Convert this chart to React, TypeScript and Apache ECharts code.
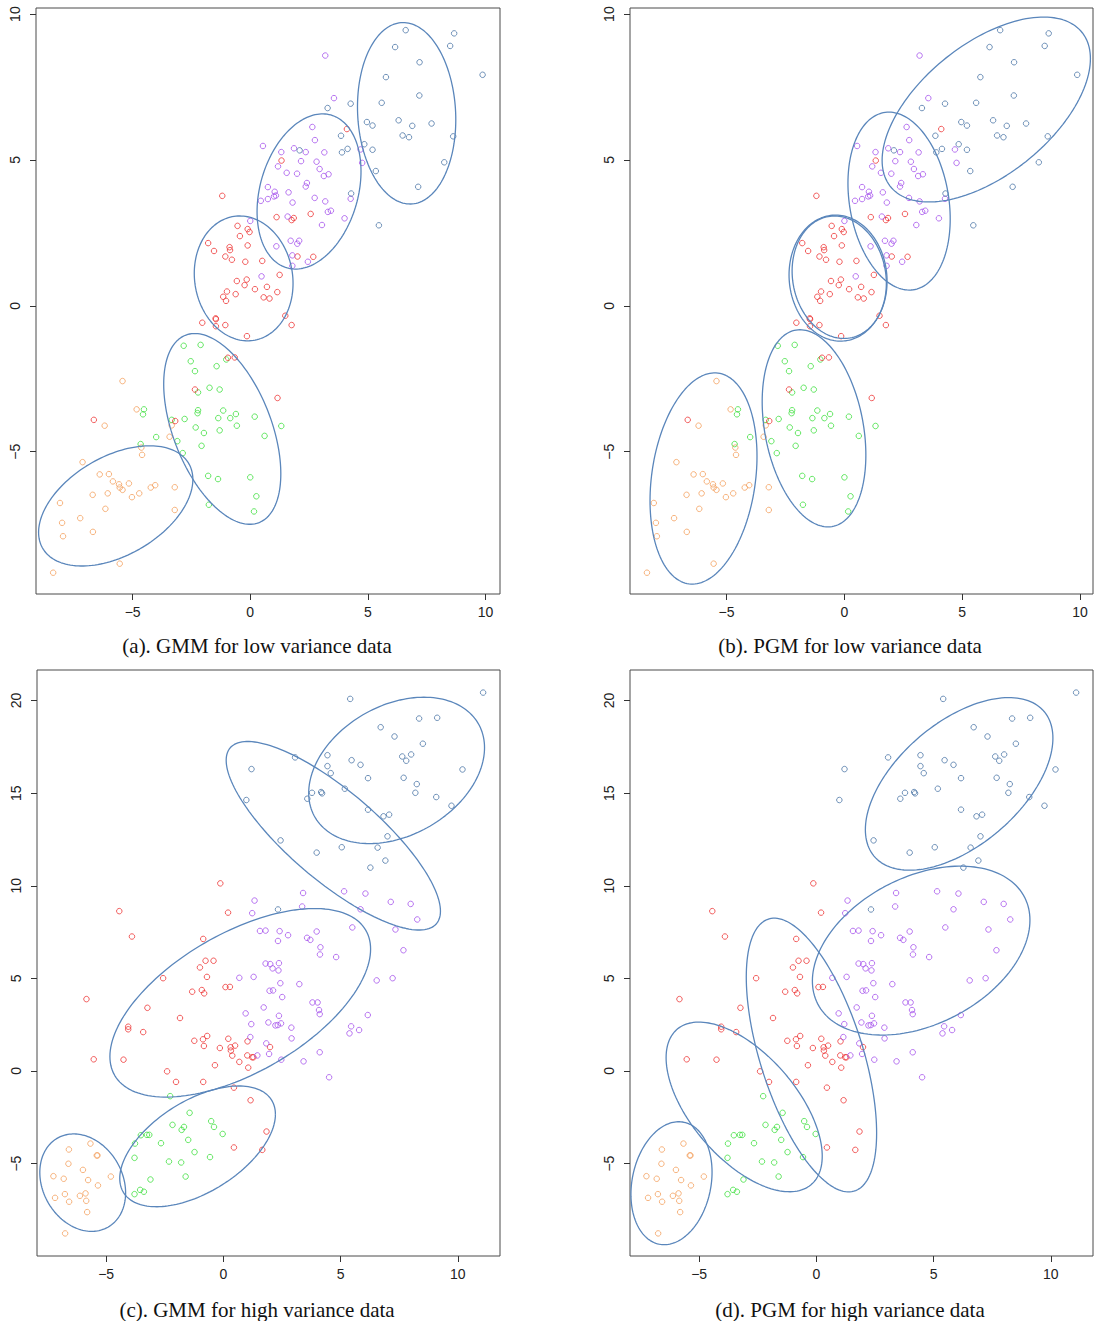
import React, { useEffect, useRef } from "react";
import * as echarts from "echarts";

// ---------- data: low variance (panels a, b) ----------
const lowOrange = [[-5.43,-2.58],[-4.83,-3.55],[-6.19,-4.11],[-3.34,-4.10],[-3.43,-4.49],[-4.63,-4.86],[-4.60,-5.11],[-7.13,-5.36],[-6.40,-5.78],[-6.01,-5.77],[-5.84,-6.02],[-5.58,-6.12],[-5.55,-6.23],[-5.43,-6.31],[-5.16,-6.09],[-4.23,-6.23],[-4.04,-6.15],[-3.21,-6.22],[-6.70,-6.48],[-6.06,-6.43],[-4.72,-6.43],[-5.03,-6.56],[-8.09,-6.76],[-6.16,-6.96],[-3.21,-7.00],[-7.23,-7.28],[-8.00,-7.44],[-6.69,-7.75],[-7.96,-7.90],[-5.55,-8.84],[-8.38,-9.15]];
const lowGreen = [[-2.83,-1.37],[-2.11,-1.34],[-2.53,-1.90],[-2.35,-2.24],[-1.43,-2.07],[-1.02,-1.84],[-2.22,-2.97],[-1.73,-2.81],[-1.30,-2.87],[-4.52,-3.55],[-4.56,-3.72],[-2.22,-3.58],[-2.24,-3.68],[-1.15,-3.59],[-1.36,-3.85],[-0.85,-3.85],[-0.61,-3.71],[0.19,-3.80],[-0.57,-4.11],[-2.79,-3.88],[-3.34,-3.91],[-2.32,-4.17],[-1.97,-4.36],[-1.30,-4.27],[0.61,-4.46],[-4.00,-4.50],[-3.10,-4.64],[-2.07,-4.80],[-4.66,-4.74],[-2.87,-5.05],[-1.79,-5.83],[-1.37,-5.94],[0.00,-5.88],[0.26,-6.53],[-1.76,-6.82],[0.16,-7.05],[1.32,-4.12]];
const lowRed = [[-1.19,3.77],[-0.54,2.74],[-0.11,2.63],[-0.03,2.53],[-0.44,2.39],[-1.79,2.15],[-0.88,2.01],[-0.86,1.91],[-1.54,1.88],[-0.11,2.07],[-1.06,1.69],[-0.78,1.58],[-0.21,1.51],[0.51,1.54],[-0.57,0.85],[-0.15,0.90],[-0.24,0.71],[0.20,0.57],[0.71,0.65],[-0.99,0.49],[-0.62,0.40],[-1.15,0.31],[-1.03,0.17],[0.57,0.29],[4.11,6.06],[1.33,4.98],[2.57,3.15],[1.12,3.04],[1.85,3.01],[1.76,2.94],[2.01,1.69],[2.68,1.68],[1.25,1.06],[1.15,0.47],[0.82,0.25],[-1.47,-0.43],[-1.46,-0.46],[-2.04,-0.58],[-1.46,-0.70],[-1.06,-0.66],[-0.14,-1.04],[-0.95,-1.78],[-0.66,-1.77],[-2.35,-2.87],[-6.65,-3.91],[-3.19,-3.95],[1.49,-0.34],[1.76,-0.66],[1.16,-3.16]];
const lowPurple = [[0.54,5.48],[0.75,4.07],[0.75,3.66],[0.45,3.60],[0.00,2.91],[0.48,1.01],[3.19,8.58],[3.56,7.12],[2.64,6.13],[4.69,5.36],[2.75,5.68],[1.86,5.40],[2.36,5.27],[3.15,5.26],[1.32,5.27],[2.16,4.96],[2.82,4.94],[1.18,4.78],[4.76,4.90],[2.95,4.69],[1.55,4.56],[1.99,4.53],[3.13,4.45],[3.33,4.51],[2.41,4.21],[2.36,4.09],[1.04,3.91],[1.63,3.89],[1.09,3.78],[1.01,3.75],[1.80,3.54],[2.74,3.70],[3.19,3.58],[4.27,3.67],[3.30,3.22],[3.43,3.26],[1.59,3.06],[4.01,3.00],[3.05,2.77],[1.11,2.04],[1.72,2.23],[2.08,2.23],[2.00,2.13],[1.79,1.73],[2.45,1.51],[1.79,1.37]];
const lowBlue = [[6.61,9.45],[8.67,9.34],[6.16,8.87],[8.50,8.91],[7.20,8.35],[9.88,7.92],[5.77,7.84],[3.29,6.78],[4.27,6.93],[7.19,7.21],[5.59,6.96],[4.96,6.30],[5.20,6.18],[6.31,6.36],[6.89,6.17],[7.71,6.25],[6.48,5.84],[6.75,5.78],[8.63,5.81],[3.86,5.83],[4.85,5.54],[5.20,5.35],[4.14,5.38],[3.90,5.26],[2.10,5.33],[5.34,4.62],[4.29,3.85],[5.47,2.76],[8.25,4.92],[7.14,4.08]];

// ---------- data: high variance (panels c, d) ----------
const highOrange = [[-5.67,-3.92],[-6.59,-4.24],[-5.37,-4.56],[-5.40,-4.56],[-6.61,-5.01],[-5.99,-5.34],[-7.25,-5.68],[-6.81,-5.82],[-5.77,-5.89],[-4.80,-5.70],[-5.35,-6.18],[-6.76,-6.65],[-7.18,-6.85],[-6.12,-6.74],[-5.88,-6.61],[-5.85,-7.01],[-6.58,-7.06],[-5.81,-7.62],[-6.75,-8.77]];
const highGreen = [[-2.27,-1.36],[-1.44,-2.26],[-2.17,-2.91],[-1.68,-3.02],[-1.78,-3.18],[-0.52,-2.71],[-0.40,-3.02],[-0.03,-3.40],[-3.52,-3.47],[-3.26,-3.45],[-3.16,-3.45],[-3.77,-3.92],[-2.66,-3.90],[-1.50,-3.72],[-1.23,-4.38],[-3.79,-4.69],[-2.32,-4.89],[-1.80,-4.94],[-0.57,-4.65],[-1.61,-5.70],[-3.11,-5.86],[-3.55,-6.42],[-3.39,-6.52],[-3.79,-6.65]];
const highRed = [[-0.13,10.13],[-4.44,8.63],[0.20,8.55],[-3.90,7.26],[-0.86,7.13],[-0.76,5.95],[-0.42,5.95],[-1.00,5.59],[-2.57,5.01],[-0.70,5.08],[-5.84,3.88],[-1.33,4.28],[-0.92,4.37],[-0.82,4.19],[0.09,4.53],[0.28,4.54],[-3.24,3.41],[-1.85,2.86],[-4.06,2.39],[-4.06,2.25],[-3.42,2.10],[-5.53,0.63],[-4.26,0.61],[-1.24,1.63],[-0.87,1.71],[-0.69,1.89],[-0.83,1.35],[0.21,1.74],[1.03,1.60],[-0.15,1.24],[0.31,1.28],[0.32,1.10],[0.50,1.37],[0.38,0.83],[1.02,0.84],[1.23,0.74],[1.28,0.74],[0.68,0.49],[1.06,0.18],[-0.36,0.31],[-2.40,-0.02],[-2.02,-0.59],[-0.86,-0.59],[0.45,-0.90],[1.16,-1.58],[1.84,-3.27],[0.45,-4.13],[1.66,-4.26],[1.99,1.29]];
const highPurple = [[1.33,9.20],[1.23,8.52],[1.56,7.56],[1.80,7.58],[1.80,5.80],[3.40,9.61],[5.15,9.70],[6.06,9.58],[7.14,9.13],[7.99,9.02],[3.36,8.88],[5.85,8.73],[8.27,8.18],[5.50,7.75],[7.34,7.64],[7.68,6.52],[2.40,7.55],[2.76,7.33],[2.33,7.02],[3.57,7.19],[3.71,7.08],[3.98,7.53],[4.14,6.68],[4.12,6.29],[4.81,6.15],[2.00,5.77],[2.37,5.82],[0.68,5.03],[1.29,5.08],[1.97,4.33],[0.95,3.11],[1.72,3.43],[1.19,2.53],[1.92,2.62],[1.15,1.83],[1.83,1.49],[1.45,0.84],[1.95,0.92],[2.10,5.54],[2.35,5.43],[2.43,4.74],[3.24,4.69],[2.12,4.35],[2.51,3.99],[3.80,3.70],[4.02,3.70],[4.08,3.29],[4.11,3.07],[2.37,2.98],[2.22,2.46],[2.32,2.48],[2.46,2.57],[2.90,2.34],[2.91,1.76],[6.54,4.89],[7.22,5.01],[6.16,3.02],[5.45,2.41],[5.79,2.21],[5.38,2.03],[2.47,0.61],[3.42,0.52],[4.11,1.01],[4.51,-0.34]];
const highBlue = [[1.20,16.30],[0.98,14.63],[5.41,20.09],[11.08,20.43],[8.35,19.03],[9.12,19.07],[6.71,18.56],[7.30,18.06],[8.51,17.67],[3.06,16.93],[4.44,17.05],[4.44,16.46],[4.58,16.08],[5.47,16.78],[5.85,16.53],[7.63,16.98],[7.80,16.75],[8.01,17.09],[10.20,16.28],[6.17,15.81],[7.69,15.83],[8.25,15.49],[8.19,15.02],[9.08,14.79],[9.73,14.32],[3.78,15.02],[4.17,15.06],[4.21,14.99],[3.58,14.70],[5.18,15.24],[6.17,14.11],[6.83,13.75],[7.07,13.84],[7.00,12.67],[2.44,12.45],[3.98,11.79],[5.05,12.08],[6.58,12.06],[6.91,11.36],[6.27,10.98],[2.33,8.72]];

// ---------- fitted components: [centerX, centerY, halfWidth, halfHeight, correlation] ----------
const ellipsesA = [[6.65,6.6,2.09,3.11,-0.07],[2.5,3.92,2.21,2.66,0.26],[-0.28,0.94,2.1,2.14,-0.08],[-1.19,-4.22,2.49,3.27,-0.47],[-5.72,-6.86,3.28,2.06,0.44]];
const ellipsesB = [[6.02,6.73,4.42,3.17,0.55],[2.32,3.59,2.17,3.05,-0.2],[-0.27,0.95,2.08,2.16,-0.05],[-0.22,0.98,2.0,2.1,-0.1],[-1.29,-4.2,2.2,3.38,-0.27],[-5.98,-5.92,2.27,3.62,0.21]];
const ellipsesC = [[7.39,16.23,3.75,3.95,0.31],[4.69,12.7,4.57,5.09,-0.8],[0.72,3.68,5.56,5.09,0.57],[-1.1,-4.07,3.32,3.26,0.53],[-6.0,-6.03,1.83,2.63,-0.21]];
const ellipsesD = [[6.09,15.5,4.0,4.66,0.53],[4.47,6.5,4.64,4.56,0.36],[-0.21,0.86,2.78,7.39,-0.57],[-3.08,-1.94,3.33,4.58,-0.58],[-6.18,-6.06,1.73,3.32,0.18]];

const xTicks = [-5, 0, 5, 10];
const yTicksLow = [-5, 0, 5, 10];
const yTicksHigh = [-5, 0, 5, 10, 15, 20];
const captions = [
  "(a). GMM for low variance data",
  "(b). PGM for low variance data",
  "(c). GMM for high variance data",
  "(d). PGM for high variance data",
];

const COLORS = { orange: "#F4A05E", green: "#3EE03E", red: "#EE3535", purple: "#A552EC", blue: "#4B76A6" };
const ELLIPSE_COLOR = "#5A86BB";

function ellipsePoints(e: number[]) {
  const [cx, cy, w, h, r] = e;
  const s = Math.sqrt(1 - r * r);
  const pts: number[][] = [];
  const n = 160;
  for (let i = 0; i <= n; i++) {
    const t = (2 * Math.PI * i) / n;
    pts.push([cx + w * Math.cos(t), cy + h * (r * Math.cos(t) + s * Math.sin(t))]);
  }
  return pts;
}

const fmt = (v: number) => (v < 0 ? "\u2212" + Math.abs(v) : String(v));

export default function App() {
  const ref = useRef<HTMLDivElement>(null);
  useEffect(() => {
    if (!ref.current) return;
    const chart = echarts.init(ref.current, null, { renderer: "svg" });
    const low = [lowOrange, lowGreen, lowRed, lowPurple, lowBlue];
    const high = [highOrange, highGreen, highRed, highPurple, highBlue];
    const cols = [COLORS.orange, COLORS.green, COLORS.red, COLORS.purple, COLORS.blue];
    const panels = [
      { grid: { left: 36, top: 8, width: 464, height: 586 }, x: [-9.11, 10.62], y: [-9.88, 10.21], yt: yTicksLow, data: low, ell: ellipsesA, cap: [257, 646] },
      { grid: { left: 630, top: 8, width: 463, height: 586 }, x: [-9.1, 10.55], y: [-9.88, 10.21], yt: yTicksLow, data: low, ell: ellipsesB, cap: [850, 646] },
      { grid: { left: 37, top: 670, width: 463, height: 586 }, x: [-7.95, 11.8], y: [-9.99, 21.65], yt: yTicksHigh, data: high, ell: ellipsesC, cap: [257, 1310] },
      { grid: { left: 630, top: 670, width: 463, height: 586 }, x: [-7.95, 11.8], y: [-9.99, 21.65], yt: yTicksHigh, data: high, ell: ellipsesD, cap: [850, 1310] },
    ];
    const grid: any[] = [];
    const xAxis: any[] = [];
    const yAxis: any[] = [];
    const series: any[] = [];
    const graphic: any[] = [];
    const tickStyle = { color: "#333", width: 1 };
    const labelStyle = { color: "#222", fontFamily: "Liberation Sans, Arial, sans-serif", fontSize: 14 };
    panels.forEach((p, i) => {
      grid.push({ ...p.grid, show: true, borderColor: "#4a4a4a", borderWidth: 1, backgroundColor: "transparent" });
      xAxis.push({
        type: "value", gridIndex: i, min: p.x[0], max: p.x[1], position: "bottom",
        axisLine: { show: false, onZero: false }, splitLine: { show: false },
        axisTick: { show: true, inside: false, length: 6, lineStyle: tickStyle, customValues: xTicks },
        axisLabel: { ...labelStyle, margin: 11, customValues: xTicks, formatter: fmt },
      });
      yAxis.push({
        type: "value", gridIndex: i, min: p.y[0], max: p.y[1], position: "left",
        axisLine: { show: false, onZero: false }, splitLine: { show: false },
        axisTick: { show: true, inside: false, length: 6, lineStyle: tickStyle, customValues: p.yt },
        axisLabel: { ...labelStyle, margin: 14, rotate: 90, customValues: p.yt, formatter: fmt },
      });
      p.data.forEach((d, k) => {
        series.push({
          type: "scatter", xAxisIndex: i, yAxisIndex: i, data: d, symbol: "circle", symbolSize: 5.5,
          itemStyle: { color: "rgba(255,255,255,0)", borderColor: cols[k], borderWidth: 1 },
          silent: true,
        });
      });
      p.ell.forEach((e) => {
        series.push({
          type: "line", xAxisIndex: i, yAxisIndex: i, data: ellipsePoints(e), showSymbol: false, symbol: "none",
          lineStyle: { color: ELLIPSE_COLOR, width: 1.3 }, silent: true, clip: true,
        });
      });
      graphic.push({
        type: "text", x: p.cap[0], y: p.cap[1],
        style: { text: captions[i], align: "center", verticalAlign: "middle", fill: "#111", font: "21px 'Liberation Serif', 'Times New Roman', serif" },
      });
    });
    chart.setOption({ animation: false, backgroundColor: "#fff", grid, xAxis, yAxis, series, graphic });
    return () => chart.dispose();
  }, []);
  return <div ref={ref} style={{ position: "absolute", left: 0, top: 0, width: 1096, height: 1321 }} />;
}
